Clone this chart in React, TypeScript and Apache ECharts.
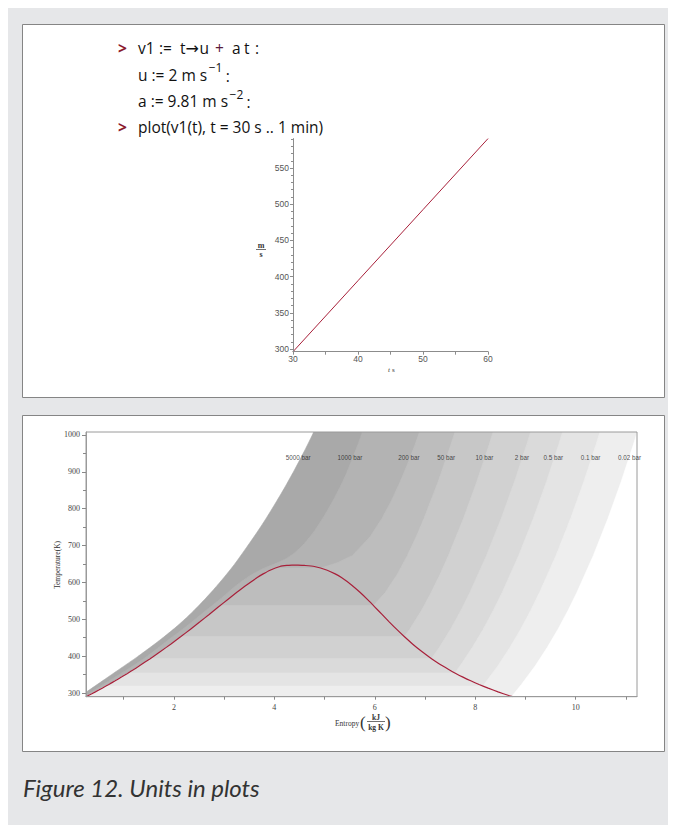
import React, { useEffect, useRef } from "react";
import * as echarts from "echarts";

// ---------- top plot data: v1(t) = u + a t ----------
const velocityTime = [30, 40, 50, 60];
const velocityValue = [296.3, 394.4, 492.5, 590.6];
const velocityTicks = [300, 350, 400, 450, 500, 550];
const velocityMinorTicks = [310, 320, 330, 340, 360, 370, 380, 390, 410, 420, 430, 440, 460, 470, 480, 490, 510, 520, 530, 540, 560, 570, 580, 590];

// ---------- bottom plot data: water T-s diagram ----------
const entropyTicks = [2, 4, 6, 8, 10];
const entropyMinorTicks = [1, 3, 5, 7, 9, 11];
const tempTicks = [300, 400, 500, 600, 700, 800, 900, 1000];
const tempMinorTicks = [350, 450, 550, 650, 750, 850, 950];

// saturated liquid line [s kJ/kgK, T K]
const satLiquid: [number, number][] = [
  [0.2507, 290], [0.2966, 293.15], [0.4369, 303.15], [0.5724, 313.15], [0.7038, 323.15],
  [0.8313, 333.15], [0.9551, 343.15], [1.0756, 353.15], [1.1929, 363.15], [1.3072, 373.15],
  [1.5279, 393.15], [1.7392, 413.15], [1.9426, 433.15], [2.1393, 453.15], [2.3308, 473.15],
  [2.5184, 493.15], [2.7015, 513.15], [2.8838, 533.15], [3.0668, 553.15], [3.2534, 573.15],
  [3.448, 593.15], [3.6594, 613.15], [3.7777, 623.15], [3.9147, 633.15], [4.1106, 643.15],
  [4.25, 646.0], [4.35, 646.9], [4.407, 647.1],
];
// saturated vapour line, from the critical point downwards
const satVapor: [number, number][] = [
  [4.407, 647.1], [4.47, 646.9], [4.6, 646.0], [4.7971, 643.15], [5.0526, 633.15], [5.2112, 623.15],
  [5.3357, 613.15], [5.5362, 593.15], [5.7045, 573.15], [5.8571, 553.15], [6.0019, 533.15],
  [6.1437, 513.15], [6.2861, 493.15], [6.4323, 473.15], [6.5857, 453.15], [6.7502, 433.15],
  [6.9299, 413.15], [7.1296, 393.15], [7.3549, 373.15], [7.4791, 363.15], [7.6122, 353.15],
  [7.7553, 343.15], [7.9096, 333.15], [8.0763, 323.15], [8.257, 313.15], [8.4533, 303.15],
  [8.6672, 293.15], [8.745, 290],
];

// supercritical isobars [s, T]
const isobar5000: [number, number][] = [
  [0.12, 290], [0.26, 303], [0.6, 335], [0.93, 366], [1.27, 398], [1.59, 430], [1.8, 452],
  [2.0, 474], [2.2, 498], [2.4, 524], [2.6, 552], [2.8, 582], [3.0, 614], [3.2, 648],
  [3.4, 686], [3.6, 725], [3.8, 766], [4.0, 810], [4.2, 856], [4.4, 905], [4.6, 957],
  [4.72, 990], [4.78, 1008],
];
const isobar1000: [number, number][] = [
  [0.22, 290], [0.6, 324], [1.03, 360], [1.47, 400], [1.88, 443], [2.26, 482], [2.62, 522],
  [2.95, 558], [3.27, 595], [3.5, 617], [3.75, 636], [4.0, 650], [4.2, 662], [4.4, 680],
  [4.6, 706], [4.8, 740], [5.0, 782], [5.2, 830], [5.4, 885], [5.58, 945], [5.75, 1008],
];
// subcritical isobars: saturation temperature, sat. liquid entropy, superheated branch
const tsat200 = 638.9, sf200 = 4.0146;
const vapor200: [number, number][] = [
  [4.9277, 638.9], [5.25, 653.15], [5.554, 673.15], [5.9017, 723.15], [6.1401, 773.15],
  [6.3348, 823.15], [6.5048, 873.15], [6.6582, 923.15], [6.7993, 973.15], [6.89, 1008],
];
const tsat50 = 537.09, sf50 = 2.9207;
const vapor50: [number, number][] = [
  [5.9737, 537.09], [6.2109, 573.15], [6.4515, 623.15], [6.6483, 673.15], [6.821, 723.15],
  [6.9781, 773.15], [7.2605, 873.15], [7.5136, 973.15], [7.595, 1008],
];
const tsat10 = 453.03, sf10 = 2.1384;
const vapor10: [number, number][] = [
  [6.585, 453.03], [6.6956, 473.15], [6.9265, 523.15], [7.1246, 573.15], [7.3029, 623.15],
  [7.467, 673.15], [7.7642, 773.15], [8.0311, 873.15], [8.2755, 973.15], [8.355, 1008],
];
const tsat2 = 393.36, sf2 = 1.5301;
const vapor2: [number, number][] = [
  [7.1268, 393.36], [7.281, 423.15], [7.5081, 473.15], [7.71, 523.15], [7.8941, 573.15],
  [8.2236, 673.15], [8.5153, 773.15], [8.7793, 873.15], [9.0221, 973.15], [9.101, 1008],
];
const tsat05 = 354.47, sf05 = 1.091;
const vapor05: [number, number][] = [
  [7.5939, 354.47], [7.6947, 373.15], [7.9401, 423.15], [8.158, 473.15], [8.3556, 523.15],
  [8.5373, 573.15], [8.8642, 673.15], [9.1546, 773.15], [9.4178, 873.15], [9.6599, 973.15], [9.739, 1008],
];
const tsat01 = 318.96, sf01 = 0.6492;
const vapor01: [number, number][] = [
  [8.1488, 318.96], [8.1749, 323.15], [8.4479, 373.15], [8.6882, 423.15], [8.9038, 473.15],
  [9.1002, 523.15], [9.2813, 573.15], [9.6077, 673.15], [9.8978, 773.15], [10.1608, 873.15],
  [10.4028, 973.15], [10.482, 1008],
];
const tsat002 = 290.65, sf002 = 0.2607;
const vapor002: [number, number][] = [
  [8.7237, 290.65], [8.918, 323.15], [9.191, 373.15], [9.431, 423.15], [9.647, 473.15],
  [9.843, 523.15], [10.024, 573.15], [10.351, 673.15], [10.641, 773.15], [10.904, 873.15],
  [11.146, 973.15], [11.225, 1008],
];

const isobarNames = ["5000 bar", "1000 bar", "200 bar", "50 bar", "10 bar", "2 bar", "0.5 bar", "0.1 bar", "0.02 bar"];
const isobarLabelS = [4.72, 5.75, 6.89, 7.6, 8.36, 9.07, 9.75, 10.49, 11.3];
const isobarLabelT = 938;
const bandShades = ["#a9a9a9", "#b3b3b3", "#bdbdbd", "#c7c7c7", "#d1d1d1", "#dadada", "#e4e4e4", "#eeeeee", "#ffffff"];

// ---------- build region polygons (painter's order, right of each isobar) ----------
const S_FAR = 12;
const T_LOW = 285;
const withLiquid = (tsat: number, sf: number, vapor: [number, number][]) => [
  ...satLiquid.filter((p) => p[1] < tsat),
  [sf, tsat] as [number, number],
  ...vapor,
];
const isobarCurves: [number, number][][] = [
  isobar5000,
  isobar1000,
  withLiquid(tsat200, sf200, vapor200),
  withLiquid(tsat50, sf50, vapor50),
  withLiquid(tsat10, sf10, vapor10),
  withLiquid(tsat2, sf2, vapor2),
  withLiquid(tsat05, sf05, vapor05),
  withLiquid(tsat01, sf01, vapor01),
  withLiquid(tsat002, sf002, vapor002),
];
const regionPolygons = isobarCurves.map((c) => {
  const last = c[c.length - 1];
  return [[c[0][0], T_LOW], ...c, [last[0], last[1] + 20], [S_FAR, last[1] + 20], [S_FAR, T_LOW]];
});
const domeLine = [...satLiquid, ...satVapor.slice(1)];

const OFF = 8; // page -> chart offset

export default function App() {
  const ref = useRef<HTMLDivElement>(null);
  useEffect(() => {
    if (!ref.current) return;
    const chart = echarts.init(ref.current, undefined, { renderer: "svg" });
    const P = (v: number) => v - OFF;
    const codeFont = '"Open Sans"';
    const codeSize = 15.5;
    const prompt = "#8b1a2c";
    const code = "#111111";
    const canvas = document.createElement("canvas");
    const ctx = canvas.getContext("2d")!;
    const measure = (s: string, size: number, fam: string) => {
      ctx.font = `${size}px ${fam}`;
      return ctx.measureText(s).width;
    };
    const t = (x: number, y: number, text: string, extra: any = {}) => ({
      type: "text",
      x: P(x),
      y: P(y),
      z: 20,
      style: {
        text,
        fill: code,
        fontSize: codeSize,
        fontFamily: codeFont,
        verticalAlign: "middle",
        align: "left",
        ...extra,
      },
    });
    const l2 = "u := 2 m s";
    const x2sup = 138 + measure(l2, codeSize, codeFont) + 1.5;
    const l3 = "a := 9.81 m s";
    const x3sup = 138 + measure(l3, codeSize, codeFont) + 1.5;

    const axisGray = "#8c8c8c";
    const plainFmt = (v: number) => String(v);
    const option: any = {
      animation: false,
      backgroundColor: "#e6e7e9",
      graphic: [
        { type: "rect", z: 0, shape: { x: P(22) + 0.5, y: P(24) + 0.5, width: 642, height: 373 }, style: { fill: "#ffffff", stroke: "#858585", lineWidth: 1 } },
        { type: "rect", z: 0, shape: { x: P(22) + 0.5, y: P(415) + 0.5, width: 642, height: 336 }, style: { fill: "#ffffff", stroke: "#858585", lineWidth: 1 } },
        // line 1: v1 := t -> u + a t :
        t(118, 48, ">", { fill: prompt, fontWeight: "bold" }),
        t(138, 48, "v1"),
        t(159, 48, ":="),
        t(180, 48, "t"),
        t(185.5, 48.5, "\u2192", { fontFamily: '"DejaVu Sans"', fontSize: 16 }),
        t(199.5, 48, "u"),
        t(215, 48, "+", { fill: "#5a1a3a" }),
        t(232, 48, "a"),
        t(244, 48, "t"),
        t(255, 48, ":"),
        // line 2
        t(138, 75, l2),
        t(x2sup, 67, "\u22121", { fontSize: 12 }),
        t(x2sup + 17, 76, ":"),
        // line 3
        t(138, 101, l3),
        t(x3sup, 94, "\u22122", { fontSize: 12 }),
        t(x3sup + 17, 102, ":"),
        // line 4
        t(118, 127, ">", { fill: prompt, fontWeight: "bold" }),
        t(138, 127, "plot(v1(t), t = 30 s .. 1 min)"),
        // top plot axis names
        t(388, 370, "t", { fontSize: 7, fontStyle: "italic", fontFamily: "Liberation Serif", fill: "#333" }),
        t(392, 370, "s", { fontSize: 7, fontFamily: "Liberation Serif", fill: "#333" }),
        t(261, 245, "m", { fontSize: 8, fontWeight: "bold", fontFamily: "Liberation Serif", fill: "#333", align: "center" }),
        { type: "line", z: 20, shape: { x1: P(256), y1: P(249) + 0.5, x2: P(266), y2: P(249) + 0.5 }, style: { stroke: "#333", lineWidth: 0.7 } },
        t(261, 254, "s", { fontSize: 8, fontWeight: "bold", fontFamily: "Liberation Serif", fill: "#333", align: "center" }),
        // bottom plot axis names
        {
          type: "text", z: 20, x: P(57), y: P(565), rotation: Math.PI / 2,
          style: { text: "Temperature(K)", fontSize: 7.5, fontFamily: "Liberation Serif", fill: "#333", align: "center", verticalAlign: "middle" },
        },
        t(335, 723, "Entropy", { fontSize: 7.5, fontFamily: "Liberation Serif", fill: "#333" }),
        t(360, 722, "(", { fontSize: 17, fontFamily: "Liberation Serif", fill: "#333" }),
        t(376, 717, "kJ", { fontSize: 7.5, fontFamily: "Liberation Serif", fill: "#333", align: "center", fontWeight: "bold" }),
        { type: "line", z: 20, shape: { x1: P(367), y1: P(721) + 0.5, x2: P(385), y2: P(721) + 0.5 }, style: { stroke: "#333", lineWidth: 0.7 } },
        t(376, 727, "kg K", { fontSize: 7.5, fontFamily: "Liberation Serif", fill: "#333", align: "center", fontWeight: "bold" }),
        t(385, 722, ")", { fontSize: 17, fontFamily: "Liberation Serif", fill: "#333" }),
        // caption
        t(23, 787, "Figure 12. Units in plots", { fontSize: 24, fontStyle: "italic", fontFamily: "Lato", fill: "#333333" }),
      ],
      grid: [
        { left: P(293), top: P(138.6), width: 195, height: 213.1, show: false },
        { left: P(86), top: P(432), width: 551, height: 264.7, show: true, borderColor: "#9a9a9a", borderWidth: 1, backgroundColor: "transparent", z: 5 },
      ],
      xAxis: [
        {
          gridIndex: 0, type: "value", min: 30, max: 60, interval: 10, z: 6,
          axisLine: { show: true, onZero: false, lineStyle: { color: axisGray } },
          axisTick: { show: true, length: 3, lineStyle: { color: axisGray } },
          minorTick: { show: true, splitNumber: 2, length: 3, lineStyle: { color: axisGray } },
          axisLabel: { fontSize: 8.5, color: "#555", margin: 3, fontFamily: "Liberation Sans", formatter: plainFmt },
          splitLine: { show: false },
        },
        {
          gridIndex: 1, type: "value", min: 0.25, max: 11.22, z: 6,
          axisLine: { show: true, onZero: false, lineStyle: { color: "#9a9a9a" } },
          axisTick: { show: true, length: 3, customValues: entropyTicks, lineStyle: { color: "#888" } },
          axisLabel: { customValues: entropyTicks, fontSize: 8, color: "#444", margin: 7, fontFamily: "Liberation Serif", formatter: plainFmt },
          splitLine: { show: false },
        },
        {
          gridIndex: 1, type: "value", min: 0.25, max: 11.22, position: "bottom", z: 6,
          axisLine: { show: false, onZero: false },
          axisTick: { show: true, length: 3, customValues: entropyMinorTicks, lineStyle: { color: "#888" } },
          axisLabel: { show: false },
          splitLine: { show: false },
        },
      ],
      yAxis: [
        {
          gridIndex: 0, type: "value", min: 296.3, max: 590.6, z: 6,
          axisLine: { show: true, onZero: false, lineStyle: { color: axisGray } },
          axisTick: { show: true, length: 3, customValues: velocityTicks, lineStyle: { color: axisGray } },
          axisLabel: { customValues: velocityTicks, fontSize: 8.5, color: "#555", margin: 4, fontFamily: "Liberation Sans", formatter: plainFmt },
          splitLine: { show: false },
        },
        {
          gridIndex: 0, type: "value", min: 296.3, max: 590.6, position: "left", z: 6,
          axisLine: { show: false, onZero: false },
          axisTick: { show: true, length: 2, customValues: velocityMinorTicks, lineStyle: { color: axisGray } },
          axisLabel: { show: false },
          splitLine: { show: false },
        },
        {
          gridIndex: 1, type: "value", min: 290, max: 1008, z: 6,
          axisLine: { show: true, onZero: false, lineStyle: { color: "#9a9a9a" } },
          axisTick: { show: true, length: 4, customValues: tempTicks, lineStyle: { color: "#888" } },
          axisLabel: { customValues: tempTicks, fontSize: 8, color: "#444", margin: 6, fontFamily: "Liberation Serif", formatter: plainFmt },
          splitLine: { show: false },
        },
        {
          gridIndex: 1, type: "value", min: 290, max: 1008, position: "left", z: 6,
          axisLine: { show: false, onZero: false },
          axisTick: { show: true, length: 3, customValues: tempMinorTicks, lineStyle: { color: "#888" } },
          axisLabel: { show: false },
          splitLine: { show: false },
        },
      ],
      series: [
        {
          type: "line", xAxisIndex: 0, yAxisIndex: 0, z: 4,
          data: velocityTime.map((tt, i) => [tt, velocityValue[i]]),
          showSymbol: false, lineStyle: { color: "#a8203a", width: 1 }, silent: true,
        },
        {
          type: "custom", xAxisIndex: 1, yAxisIndex: 2, z: 2, clip: true, silent: true,
          data: regionPolygons.map((_, i) => [5, 500, i]),
          renderItem: (params: any, api: any) => {
            const i = params.dataIndex;
            const pts = regionPolygons[i].map((p) => api.coord(p));
            return {
              type: "polygon",
              shape: { points: pts, smooth: i < 2 ? 0.25 : 0 },
              style: { fill: bandShades[i], stroke: bandShades[i], lineWidth: 0.6 },
            };
          },
        },
        {
          type: "line", xAxisIndex: 1, yAxisIndex: 2, z: 4, silent: true,
          data: domeLine, showSymbol: false, smooth: 0.2,
          lineStyle: { color: "#a8203a", width: 1.2 },
        },
        {
          type: "scatter", xAxisIndex: 1, yAxisIndex: 2, z: 7, silent: true, symbolSize: 0, clip: false,
          data: isobarNames.map((n, i) => ({ name: n, value: [isobarLabelS[i], isobarLabelT] })),
          label: { show: true, position: "left", distance: 0, formatter: "{b}", fontSize: 6.3, color: "#222", fontFamily: "Liberation Sans" },
        },
      ],
    };
    chart.setOption(option);
    return () => chart.dispose();
  }, []);
  return <div ref={ref} style={{ position: "absolute", left: 8, top: 8, width: 660, height: 817 }} />;
}
